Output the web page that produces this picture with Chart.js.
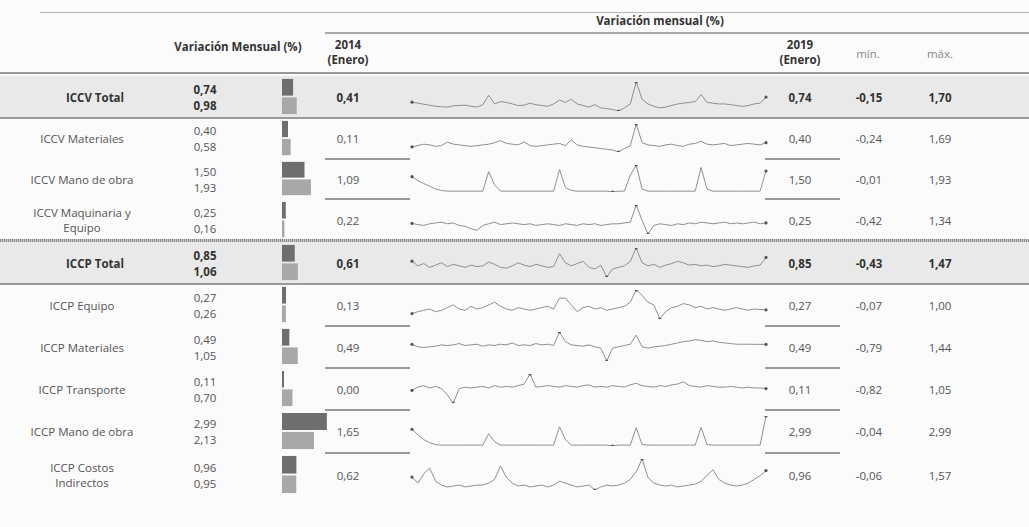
<!DOCTYPE html>
<html>
<head>
<meta charset="utf-8">
<script src="https://cdn.jsdelivr.net/npm/chart.js@4/dist/chart.umd.min.js"></script>
<style>
body { margin: 0; width: 1029px; height: 527px; background: #fbfbfb; overflow: hidden; font-family: "Open Sans", sans-serif; color: #555; position: relative; }
.t { position: absolute; font-size: 11.5px; white-space: nowrap; transform: translate(-50%, -50%); text-align: center; line-height: 15px; }
.b { font-weight: bold; color: #333; }
.ln { position: absolute; background: #9a9a9a; }
.sh { position: absolute; background: #e9e9e9; left: 0; width: 1029px; }
</style>
</head>
<body>
<script>
// Indicadores (filas)
var indicadores = ["ICCV Total", "ICCV Materiales", "ICCV Mano de obra", "ICCV Maquinaria y<br>Equipo",
    "ICCP Total", "ICCP Equipo", "ICCP Materiales", "ICCP Transporte", "ICCP Mano de obra", "ICCP Costos<br>Indirectos"];
var negrita = [true, false, false, false, true, false, false, false, false, false];
// Variación mensual (%) - dos valores por fila
var valorArriba = [0.74, 0.40, 1.50, 0.25, 0.85, 0.27, 0.49, 0.11, 2.99, 0.96];
var valorAbajo = [0.98, 0.58, 1.93, 0.16, 1.06, 0.26, 1.05, 0.70, 2.13, 0.95];
var ene2014 = [0.41, 0.11, 1.09, 0.22, 0.61, 0.13, 0.49, 0.00, 1.65, 0.62];
var ene2019 = [0.74, 0.40, 1.50, 0.25, 0.85, 0.27, 0.49, 0.11, 2.99, 0.96];
var minimo = [-0.15, -0.24, -0.01, -0.42, -0.43, -0.07, -0.79, -0.82, -0.04, -0.06];
var maximo = [1.70, 1.69, 1.93, 1.34, 1.47, 1.00, 1.44, 1.05, 2.99, 1.57];

// Series mensuales ene 2014 - ene 2019
var sICCVTotal = [0.41,0.35,0.28,0.22,0.15,0.12,0.10,0.18,0.20,0.22,0.15,0.10,
    0.25,0.85,0.30,0.45,0.40,0.30,0.20,0.22,0.35,0.25,0.20,0.15,
    0.30,0.55,0.40,0.60,0.30,0.20,0.10,0.25,0.05,0.00,-0.05,-0.15,
    0.05,0.30,1.70,0.60,0.30,0.15,0.05,0.10,0.20,0.30,0.35,0.40,
    0.45,0.90,0.40,0.35,0.30,0.30,0.25,0.20,0.15,0.20,0.30,0.35,
    0.74];
var sICCVMateriales = [0.11,0.20,0.30,0.25,0.15,0.20,0.45,0.30,0.25,0.20,0.15,0.20,
    0.25,0.30,0.40,0.55,0.35,0.30,0.25,0.45,0.20,0.15,0.20,0.25,
    0.30,0.35,0.20,0.60,0.25,0.15,0.10,0.05,0.00,-0.05,-0.10,-0.24,
    0.00,0.20,1.69,0.40,0.25,0.20,0.15,0.25,0.30,0.20,0.15,0.30,
    0.35,0.50,0.30,0.25,0.30,0.35,0.20,0.25,0.30,0.35,0.30,0.25,
    0.40];
var sICCVManoObra = [1.09,0.80,0.60,0.40,0.20,0.10,0.05,0.05,0.05,0.05,0.05,0.05,
    0.05,1.45,0.50,0.05,0.05,0.05,0.05,0.05,0.05,0.05,0.05,0.05,
    0.05,1.60,0.30,0.10,0.05,0.05,0.05,0.05,0.05,0.05,-0.01,0.05,
    0.05,1.20,1.93,0.20,0.05,0.05,0.05,0.05,0.05,0.05,0.05,0.05,
    0.05,1.75,0.20,0.05,0.05,0.05,0.05,0.05,0.05,0.05,0.05,0.05,
    1.50];
var sICCVMaquinaria = [0.22,0.15,0.10,0.20,0.25,0.30,0.20,0.25,0.10,0.05,-0.10,-0.20,
    0.10,0.20,0.30,0.15,0.20,0.25,0.20,0.15,0.20,0.10,0.15,0.20,
    0.15,0.10,0.20,0.15,0.10,0.20,0.15,0.20,0.10,0.15,0.20,0.20,
    0.25,0.30,1.34,0.40,-0.42,0.10,0.20,0.15,0.10,0.20,0.15,0.25,
    0.20,0.30,0.25,0.20,0.25,0.30,0.20,0.25,0.20,0.25,0.30,0.20,
    0.25];
var sICCPTotal = [0.61,0.30,0.45,0.20,0.35,0.50,0.25,0.40,0.30,0.20,0.35,0.25,
    0.30,0.55,0.40,0.20,0.15,0.30,0.50,0.35,0.25,0.40,0.30,0.20,
    0.25,1.10,0.50,0.30,0.45,0.60,0.20,0.10,0.35,-0.43,0.10,0.20,
    0.30,0.60,1.47,0.50,0.30,0.40,0.20,0.35,0.45,0.60,0.50,0.35,
    0.40,0.30,0.35,0.25,0.30,0.40,0.35,0.30,0.25,0.20,0.30,0.35,
    0.85];
var sICCPEquipo = [0.13,0.20,0.25,0.30,0.20,0.25,0.35,0.45,0.30,0.25,0.40,0.30,
    0.35,0.45,0.55,0.40,0.30,0.25,0.35,0.30,0.25,0.30,0.35,0.40,
    0.30,0.70,0.70,0.45,0.20,0.35,0.40,0.30,0.35,0.25,0.30,0.35,
    0.40,0.55,1.00,0.80,0.55,0.45,-0.07,0.20,0.35,0.40,0.50,0.45,
    0.35,0.40,0.30,0.35,0.30,0.25,0.30,0.35,0.30,0.25,0.30,0.28,
    0.27];
var sICCPMateriales = [0.49,0.30,0.25,0.30,0.35,0.45,0.40,0.45,0.55,0.40,0.45,0.50,
    0.35,0.45,0.40,0.50,0.45,0.60,0.40,0.45,0.40,0.55,0.45,0.50,
    0.40,1.44,0.70,0.45,0.40,0.35,0.45,0.30,0.20,-0.79,0.20,0.30,
    0.40,0.50,1.20,0.30,0.20,0.30,0.35,0.40,0.50,0.60,0.70,0.75,
    0.85,0.80,0.70,0.75,0.65,0.60,0.55,0.50,0.50,0.50,0.49,0.49,
    0.49];
var sICCPTransporte = [0.00,0.20,0.30,0.15,0.25,0.10,-0.30,-0.82,0.10,0.20,0.15,0.20,
    0.25,0.15,0.30,0.20,0.25,0.20,0.30,0.40,1.05,0.20,0.25,0.30,
    0.25,0.20,0.30,0.25,0.20,0.30,0.35,0.20,0.25,0.20,0.30,0.25,
    0.20,0.35,0.45,0.30,0.25,0.20,0.30,0.25,0.35,0.40,0.55,0.30,
    0.25,0.20,0.30,0.25,0.20,0.20,0.25,0.20,0.15,0.20,0.15,0.15,
    0.11];
var sICCPManoObra = [1.65,1.10,0.60,0.30,0.10,0.05,0.05,0.05,0.05,0.05,0.05,0.05,
    0.05,1.20,0.40,0.05,0.05,0.05,0.05,0.05,0.05,0.05,0.05,0.05,
    0.05,1.90,0.60,0.05,0.05,0.05,0.05,0.05,0.05,0.05,-0.04,0.05,
    0.05,0.05,1.80,0.10,0.05,0.05,0.05,0.05,0.05,0.05,0.05,0.05,
    0.05,1.85,0.10,0.05,0.05,0.05,0.05,0.05,0.05,0.05,0.05,0.05,
    2.99];
var sICCPIndirectos = [0.62,0.30,0.80,1.10,0.40,0.20,0.10,0.15,0.20,0.10,0.15,0.20,
    0.20,0.30,0.50,1.20,0.60,0.30,0.15,0.20,0.10,0.15,0.20,0.10,
    0.20,0.40,0.30,0.20,0.10,0.15,0.20,-0.06,0.10,0.20,0.15,0.20,
    0.30,0.50,0.90,1.57,0.60,0.30,0.20,0.15,0.20,0.10,0.15,0.20,
    0.25,0.40,0.70,1.00,0.50,0.30,0.20,0.15,0.20,0.30,0.50,0.70,
    0.96];
var series = [sICCVTotal, sICCVMateriales, sICCVManoObra, sICCVMaquinaria, sICCPTotal,
    sICCPEquipo, sICCPMateriales, sICCPTransporte, sICCPManoObra, sICCPIndirectos];

// Layout
var filaTop = [76, 118, 159, 199, 242, 284, 326, 368, 410, 453];
var filaBottom = [117, 158, 198, 240, 283, 325, 367, 409, 452, 496];

function fmt(v) {
    return v.toFixed(2).replace(".", ",");
}
function el(cls, html, x, y) {
    var d = document.createElement("div");
    d.className = cls;
    d.innerHTML = html;
    d.style.left = x + "px";
    d.style.top = y + "px";
    document.body.appendChild(d);
    return d;
}
function linea(x, y, w, h, color) {
    var d = document.createElement("div");
    d.className = "ln";
    d.style.left = x + "px";
    d.style.top = y + "px";
    d.style.width = w + "px";
    d.style.height = h + "px";
    if (color) d.style.background = color;
    document.body.appendChild(d);
}
function lienzo(x, y, w, h) {
    var div = document.createElement("div");
    div.style.cssText = "position:absolute;left:" + x + "px;top:" + y + "px;width:" + w + "px;height:" + h + "px;";
    var c = document.createElement("canvas");
    div.appendChild(c);
    document.body.appendChild(div);
    return c;
}

//Filas sombreadas
[0, 4].forEach(i => {
    var s = document.createElement("div");
    s.className = "sh";
    s.style.top = filaTop[i] + "px";
    s.style.height = (filaBottom[i] - filaTop[i]) + "px";
    document.body.appendChild(s);
});

//Encabezado
linea(40, 12, 989, 1, "#b5b5b5");
el("t b", "Variación mensual (%)", 660, 20);
linea(325, 32, 704, 2, "#a8a8a8");
el("t b", "Variación Mensual (%)", 238, 46);
el("t b", "2014<br>(Enero)", 348, 52);
el("t b", "2019<br>(Enero)", 800, 52);
el("t", "mín.", 868, 53).style.color = "#888";
el("t", "máx.", 940, 53).style.color = "#888";
linea(0, 72, 1029, 2, "#999");

//Lineas de separacion
linea(0, 117, 1029, 2, "#999");
var sep = document.createElement("div");
sep.style.cssText = "position:absolute;left:0;top:239px;width:1029px;height:3px;background:repeating-linear-gradient(90deg,#888 0 1px,#ccc 1px 2px);";
document.body.appendChild(sep);
linea(0, 283, 1029, 2, "#999");
[158, 198, 325, 367, 409, 452].forEach(y => {
    linea(325, y, 85, 2, "#999");
    linea(765, y, 75, 2, "#999");
});

//Filas
indicadores.forEach((nombre, i) => {
    var cy = (filaTop[i] + filaBottom[i]) / 2;
    var c = negrita[i] ? "t b" : "t";
    el(c, nombre, negrita[i] ? 95 : 82, cy);
    el(c, fmt(valorArriba[i]), 205, cy - 8);
    el(c, fmt(valorAbajo[i]), 205, cy + 8);
    el(c, fmt(ene2014[i]), 348, cy);
    el(c, fmt(ene2019[i]), 800, cy);
    el(c, fmt(minimo[i]), 869, cy);
    el(c, fmt(maximo[i]), 940, cy);

    //Barras
    var cb = lienzo(282, filaTop[i] + 2, 45, filaBottom[i] - filaTop[i] - 4);
    new Chart(cb, {
        type: 'bar',
        data: {
            labels: ["a", "b"],
            datasets: [{
                data: [valorArriba[i], valorAbajo[i]],
                backgroundColor: ['#6e6e6e', '#a8a8a8'],
                borderWidth: 0,
                minBarLength: 2,
                barPercentage: 0.95,
                categoryPercentage: 0.95
            }]
        },
        options: {
            indexAxis: 'y',
            maintainAspectRatio: false,
            animation: false,
            plugins: { legend: { display: false }, tooltip: { enabled: false } },
            scales: {
                x: { display: false, min: 0, max: 3.0 },
                y: { display: false }
            }
        }
    });

    //Sparkline
    var datos = series[i];
    var lo = Math.min.apply(null, datos);
    var hi = Math.max.apply(null, datos);
    var radios = datos.map((v, k) => (k == 0 || k == datos.length - 1 || v == lo || v == hi) ? 1.6 : 0);
    var cs = lienzo(408, filaTop[i] + 2, 362, filaBottom[i] - filaTop[i] - 4);
    new Chart(cs, {
        type: 'line',
        data: {
            labels: datos.map((v, k) => "m" + k),
            datasets: [{
                data: datos,
                borderColor: '#8f8f8f',
                borderWidth: 1,
                pointRadius: radios,
                pointBackgroundColor: '#555',
                pointBorderWidth: 0,
                tension: 0
            }]
        },
        options: {
            maintainAspectRatio: false,
            animation: false,
            layout: { padding: { top: 3, bottom: 3, left: 2, right: 2 } },
            plugins: { legend: { display: false }, tooltip: { enabled: false } },
            scales: {
                x: { display: false },
                y: { display: false, min: lo, max: hi }
            }
        }
    });
});
</script>
</body>
</html>
